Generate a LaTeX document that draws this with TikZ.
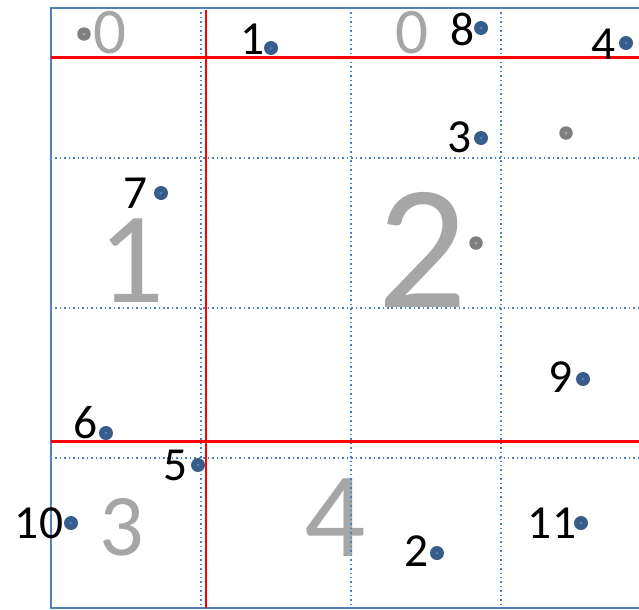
\documentclass[tikz,border=0pt]{standalone}
\usepackage{fontspec}
\setmainfont{Carlito}

\definecolor{gridblue}{RGB}{79,129,189}
\definecolor{dotblue}{RGB}{56,93,138}
\definecolor{numgray}{RGB}{166,166,166}
\definecolor{dotgray}{RGB}{127,127,127}

\tikzset{
  bluedot/.style={circle,fill=dotblue,minimum size=0.28cm,inner sep=0pt},
  graydot/.style={circle,fill=dotgray,minimum size=0.27cm,inner sep=0pt},
  lbl/.style={inner sep=0pt,font=\fontsize{27}{27}\selectfont},
  regnum/.style={inner sep=0pt,text=numgray},
  gridline/.style={gridblue,line width=0.85pt,dash pattern=on 0.85pt off 1.7pt},
  cutline/.style={red,line width=1.4pt}
}

\begin{document}
\begin{tikzpicture}[x=0.02cm,y=-0.02cm]
\useasboundingbox (0,0) rectangle (639,609);
\clip (0,0) rectangle (639,609);

% Region numbers
\foreach \n/\s/\x/\y [count=\i] in {0/37/110/32.5, 0/37/412/32.5, 1/74/131/261, 2/101/422/250, 3/50/122/527, 4/69/335/518}
{\node[regnum,font=\fontsize{\s}{\s}\selectfont] (r\i) at (\x,\y) {\n};}

% Grid
\foreach \g in {201,351,501}
{\draw[gridline] (\g,8) -- (\g,608);}
\foreach \g in {158,308,458}
{\draw[gridline] (51,\g) -- (651,\g);}
\draw[gridblue,line width=1.1pt] (51,8) rectangle (651,608);

% Split lines
\draw[cutline] (206,10) -- (206,608);
\draw[cutline] (51,57.5) -- (651,57.5);
\draw[cutline] (51,441.5) -- (651,441.5);

% Gray points
\foreach \x/\y [count=\i] in {84/34, 566/133, 476/243}
{\node[graydot] (g\i) at (\x,\y) {};
\fill[numgray] (g\i) circle (0.03cm);}

% Numbered points
\foreach \n/\x/\y/\lx/\ly in {1/271/48/253/39, 2/437/553/417/551, 3/481/138/460/137, 4/626/43/604/44, 5/198/465/176/465, 6/106/433/86/423, 7/161/193/136/193, 8/481/28/463/29, 9/583/379/561/377, 10/71/523/39/523, 11/581/523/552/523}
{\node[bluedot] (p\n) at (\x,\y) {};
\fill[gridblue] (p\n) circle (0.03cm);
\node[lbl] (l\n) at (\lx,\ly) {\n};}
\end{tikzpicture}
\end{document}
